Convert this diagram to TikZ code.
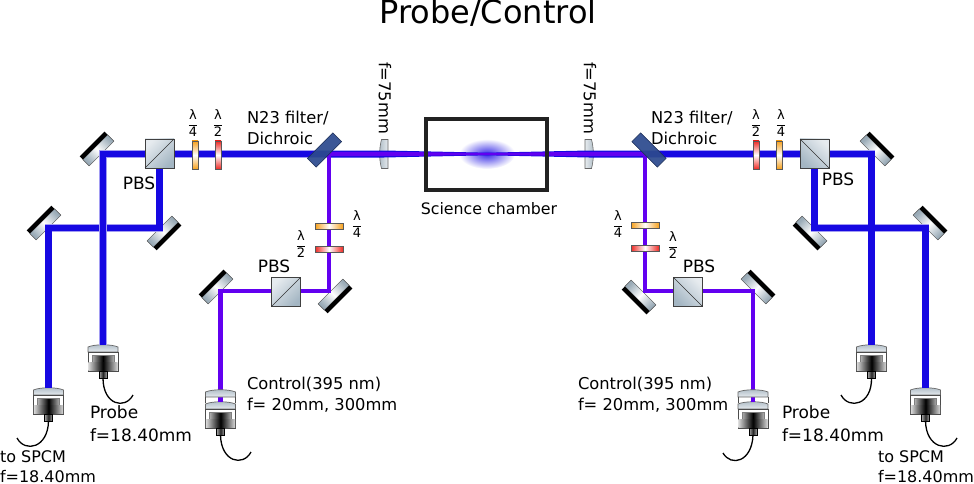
\documentclass[tikz,border=0pt]{standalone}
\usepackage{fontspec}
\setmainfont{DejaVu Sans}
\usetikzlibrary{calc,positioning,shapes.geometric}
\definecolor{beamblue}{HTML}{1608E2}
\definecolor{beampurple}{HTML}{6200F0}
\definecolor{mirgray}{HTML}{9AABB7}
\definecolor{cubelight}{HTML}{E6EBEF}
\definecolor{cubedark}{HTML}{A4B6C3}
\definecolor{dichblue}{HTML}{2C4A8E}
\definecolor{plateorange}{HTML}{F6A01C}
\definecolor{platered}{HTML}{EE2A24}
\definecolor{ink}{HTML}{222222}
\newcommand{\lamfrac}[1]{$\displaystyle\frac{\hbox{λ}}{\hbox{#1}}$}
\tikzset{
  pics/coupler/.style={code={
    \path[draw=black!60,line width=.7pt,top color=mirgray!80,bottom color=cubelight]
      (-15,3) .. controls (-8,0) and (8,0) .. (15,3) -- (15,8) -- (-15,8) -- cycle;
    \path[draw=black!70,line width=.8pt,fill=white] (-15,8) rectangle (15,27);
    \path[draw=black!50,line width=.5pt,left color=black!30,right color=black!30,middle color=black] (-11,11) rectangle (11,18);
    \path[left color=black!15,right color=black!15,middle color=black] (-14.6,18) rectangle (14.6,26.6);
    \path[draw=black,line width=.7pt,left color=black!35,right color=black!35,middle color=black!85] (-4,27) rectangle (4,34);
    \coordinate (-in) at (0,1);
    \coordinate (-fib) at (0,34);
  }},
  pics/couplerlens/.style={code={
    \path[draw=black!60,line width=.7pt,top color=mirgray!80,bottom color=cubelight]
      (-15,3) .. controls (-8,0) and (8,0) .. (15,3) -- (15,8) -- (-15,8) -- cycle;
    \draw[black!70,line width=.8pt] (-15,8) -- (-15,14) (15,8) -- (15,14);
  }}
}
\begin{document}
\begin{tikzpicture}[x=1pt,y=-1pt,
  every node/.style={inner sep=0pt,outer sep=0pt},
  txt/.style={font=\fontsize{16.3}{21.5}\selectfont,align=left},
  prbtxt/.style={font=\fontsize{17}{23}\selectfont,align=left},
  spctxt/.style={font=\fontsize{16}{20.5}\selectfont},
  pbstxt/.style={font=\fontsize{17}{20}\selectfont},
  lamtxt/.style={font=\fontsize{13}{13}\selectfont},
  mirbody/.style={rectangle,minimum width=35pt,minimum height=9pt,draw=black!70,line width=.4pt,
    top color=mirgray,bottom color=mirgray,middle color=white,rotate=#1,shading angle=#1-90},
  mirback/.style={rectangle,minimum width=35pt,minimum height=4.5pt,fill=black,rotate=#1,anchor=south},
  cube/.style={rectangle,minimum size=29pt,draw=black!75,line width=.7pt,
    top color=cubelight,bottom color=cubedark,shading angle=#1},
  wplate/.style={rectangle,minimum width=6pt,minimum height=28pt,draw=black!65,line width=.6pt,
    top color=#1,bottom color=#1,middle color=white},
  wplateh/.style={rectangle,minimum width=28pt,minimum height=6pt,draw=black!65,line width=.6pt,
    left color=#1,right color=#1,middle color=white},
  dichroic/.style={rectangle,minimum width=36pt,minimum height=12.5pt,draw=dichblue!60!black,line width=.5pt,
    fill=dichblue,fill opacity=.93,rotate=#1},
  prbbeam/.style={draw=beamblue,line width=6.5pt,preaction={draw=beamblue!40,line width=7.8pt}},
  ctlbeam/.style={draw=beampurple,line width=4.4pt},
  fibre/.style={draw=black,line width=1.3pt}]
  \useasboundingbox (0,0) rectangle (974,484);
  \node[font=\fontsize{32}{34}\selectfont] (title) at (488,13) {Probe/Control};
  % mirrors
  \foreach \nm/\px/\py/\ang in {mPrbL/98.4/150.4/45,mSpcL/45.4/224.4/45,mPbsL/162.6/231.6/225,mCtaL/217.4/288.4/45,mCtbL/333.6/294.6/225,
      mPrbR/875.6/150.4/-45,mSpcR/928.6/224.4/-45,mPbsR/811.4/231.6/135,mCtaR/756.6/288.4/-45,mCtbR/640.4/295.6/135}{
    \node[mirbody=\ang] (\nm) at (\px,\py) {};
    \node[mirback=\ang] (\nm b) at (\nm.north) {};
  }
  % fibre couplers
  \pic (cpSpcL) at (48.5,387) {coupler};
  \pic (cpPrbL) at (103,344) {coupler};
  \pic (cpCtlL) at (220.5,401) {coupler};
  \pic (cpCtlR) at (753,401) {coupler};
  \pic (cpPrbR) at (871.5,344) {coupler};
  \pic (cpSpcR) at (925.5,387) {coupler};
  % chamber cloud
  \node[ellipse,minimum width=56pt,minimum height=30pt,inner color=beamblue!85,outer color=white] (cloud) at (487,154) {};
  % points on the beam lines
  \coordinate (dL) at (329,154);
  \coordinate (dR) at (645,154);
  \coordinate (focus) at (487,154);
  \coordinate (lensL) at (384,154);
  \coordinate (lensR) at (589,154);
  \coordinate (cPbsL) at (159.5,153.5);
  \coordinate (cPbsR) at (814.5,153.5);
  % lenses
  \path[draw=black!60,line width=.6pt,left color=mirgray!80,right color=cubelight]
    ($(lensL)+(4,-14.5)$) -- ($(lensL)+(-2.5,-14.5)$) .. controls ($(lensL)+(-5,-5)$) and ($(lensL)+(-5,5)$) .. ($(lensL)+(-2.5,14.5)$) -- ($(lensL)+(4,14.5)$) -- cycle;
  \path[draw=black!60,line width=.6pt,right color=mirgray!80,left color=cubelight]
    ($(lensR)+(-4,-14.5)$) -- ($(lensR)+(2.5,-14.5)$) .. controls ($(lensR)+(5,-5)$) and ($(lensR)+(5,5)$) .. ($(lensR)+(2.5,14.5)$) -- ($(lensR)+(-4,14.5)$) -- cycle;
  % probe beams
  \coordinate (bPrbL) at (103,154);
  \coordinate (bSpcL) at (48.5,228);
  \coordinate (bPbsL) at (159.5,228);
  \coordinate (bPrbR) at (871.5,154);
  \coordinate (bSpcR) at (925.5,228);
  \coordinate (bPbsR) at (814.5,228);
  \draw[prbbeam] (cpSpcL-in) -- (bSpcL) -- (bPbsL) -- (cPbsL);
  \draw[prbbeam] (cpPrbL-in) -- (bPrbL) -- (dL);
  \draw[prbbeam] (cpSpcR-in) -- (bSpcR) -- (bPbsR) -- (cPbsR);
  \draw[prbbeam] (cpPrbR-in) -- (bPrbR) -- (dR);
  \fill[beamblue] ($(dL)+(0,-3.5)$) -- ($(lensL)+(0,-3.5)$) -- ($(focus)+(0,-1.3)$) -- ($(lensR)+(0,-3.5)$) -- ($(dR)+(0,-3.5)$)
    -- ($(dR)+(0,3.5)$) -- ($(lensR)+(0,3.5)$) -- ($(focus)+(0,1.3)$) -- ($(lensL)+(0,3.5)$) -- ($(dL)+(0,3.5)$) -- cycle;
  % control beams
  \coordinate (bCtaL) at (220.5,291);
  \coordinate (bCtbL) at (329,291);
  \coordinate (bCtaR) at (753,291);
  \coordinate (bCtbR) at (645,291);
  \draw[ctlbeam] (cpCtlL-in) -- (bCtaL) -- (bCtbL) -- (dL);
  \draw[ctlbeam] (cpCtlR-in) -- (bCtaR) -- (bCtbR) -- (dR);
  \fill[beampurple] ($(dL)+(-2.2,-2.2)$) -- ($(lensL)+(0,-2.2)$) -- ($(focus)+(0,-1)$) -- ($(lensR)+(0,-2.2)$) -- ($(dR)+(2.2,-2.2)$)
    -- ($(dR)+(2.2,2.2)$) -- ($(lensR)+(0,2.2)$) -- ($(focus)+(0,1)$) -- ($(lensL)+(0,2.2)$) -- ($(dL)+(-2.2,2.2)$) -- cycle;
  % optics on top of the beams
  \node[cube=45] (pbsL) at (cPbsL) {};
  \node[cube=-45] (pbsR) at (cPbsR) {};
  \node[cube=45] (pbsCL) at (286,292) {};
  \node[cube=-45] (pbsCR) at (688,292) {};
  \draw[black!80,line width=.6pt] (pbsL.south west) -- (pbsL.north east);
  \draw[black!80,line width=.6pt] (pbsCL.south west) -- (pbsCL.north east);
  \draw[black!80,line width=.6pt] (pbsR.north west) -- (pbsR.south east);
  \draw[black!80,line width=.6pt] (pbsCR.north west) -- (pbsCR.south east);
  \node[dichroic=45] (dichL) at (324.5,150) {};
  \node[dichroic=-45] (dichR) at (649,150) {};
  \node[wplate=plateorange] (qwpL) at (195,155) {};
  \node[wplate=platered] (hwpL) at (218,155) {};
  \node[wplate=platered] (hwpR) at (756,155) {};
  \node[wplate=plateorange] (qwpR) at (779,155) {};
  \node[wplateh=plateorange] (qwpCL) at (329,226) {};
  \node[wplateh=platered] (hwpCL) at (329,249) {};
  \node[wplateh=plateorange] (qwpCR) at (645,225) {};
  \node[wplateh=platered] (hwpCR) at (645,248) {};
  \node[rectangle,minimum width=121pt,minimum height=71pt,draw=ink,line width=4pt] (chamber) at (486.8,154.5) {};
  \pic at (220.5,389) {couplerlens};
  \pic at (753,389) {couplerlens};
  % fibres
  \coordinate (fSpcL) at (17,438);
  \coordinate (fPrbL) at (133,395);
  \coordinate (fCtlL) at (251,452);
  \coordinate (fCtlR) at (723,453);
  \coordinate (fPrbR) at (841,395);
  \coordinate (fSpcR) at (957,438);
  \draw[fibre] (cpSpcL-fib) .. controls (48,448) and (25,453) .. (fSpcL);
  \draw[fibre] (cpPrbL-fib) .. controls (103,405) and (125,410) .. (fPrbL);
  \draw[fibre] (cpCtlL-fib) .. controls (221,462) and (243,467) .. (fCtlL);
  \draw[fibre] (cpCtlR-fib) .. controls (752,462) and (731,467) .. (fCtlR);
  \draw[fibre] (cpPrbR-fib) .. controls (872,405) and (849,410) .. (fPrbR);
  \draw[fibre] (cpSpcR-fib) .. controls (926,448) and (949,453) .. (fSpcR);
  % labels
  \node[lamtxt,above=5pt of qwpL,xshift=-2pt] (lq1) {\lamfrac{4}};
  \node[lamtxt,above=5pt of hwpL] (lh1) {\lamfrac{2}};
  \node[lamtxt,above=5pt of hwpR] (lh2) {\lamfrac{2}};
  \node[lamtxt,above=5pt of qwpR,xshift=2pt] (lq2) {\lamfrac{4}};
  \node[lamtxt] (lq3) at (357,224) {\lamfrac{4}};
  \node[lamtxt] (lh3) at (301,244) {\lamfrac{2}};
  \node[lamtxt] (lq4) at (618,224) {\lamfrac{4}};
  \node[lamtxt] (lh4) at (673,245) {\lamfrac{2}};
  \node[pbstxt] (tPbsL) at (139,183) {PBS};
  \node[pbstxt] (tPbsCL) at (274,266) {PBS};
  \node[pbstxt] (tPbsCR) at (699,266) {PBS};
  \node[pbstxt] (tPbsR) at (838,179) {PBS};
  \node[txt,rotate=-90] (tLensL) at (385,98) {f=75mm};
  \node[txt,rotate=-90] (tLensR) at (590,98) {f=75mm};
  \node[txt,anchor=west] (tDichL) at (247,128) {N23 filter/\\Dichroic};
  \node[txt,anchor=west] (tDichR) at (651,128) {N23 filter/\\Dichroic};
  \node[font=\fontsize{15.8}{20}\selectfont] (tChamber) at (489,209) {Science chamber};
  \node[spctxt,anchor=base west] (tSpcLa) at (0,462) {to SPCM};
  \node[spctxt,anchor=base west] (tSpcLb) at (0,482) {f=18.40mm};
  \node[prbtxt,anchor=west] (tPrbL) at (90,424) {Probe\\f=18.40mm};
  \node[txt,anchor=west] (tCtlL) at (247,395) {Control(395 nm)\\f= 20mm, 300mm};
  \node[txt,anchor=west] (tCtlR) at (578,395) {Control(395 nm)\\f= 20mm, 300mm};
  \node[prbtxt,anchor=west] (tPrbR) at (782,424) {Probe\\f=18.40mm};
  \node[spctxt,anchor=base west] (tSpcRa) at (878,462) {to SPCM};
  \node[spctxt,anchor=base west] (tSpcRb) at (878,482) {f=18.40mm};
\end{tikzpicture}
\end{document}
